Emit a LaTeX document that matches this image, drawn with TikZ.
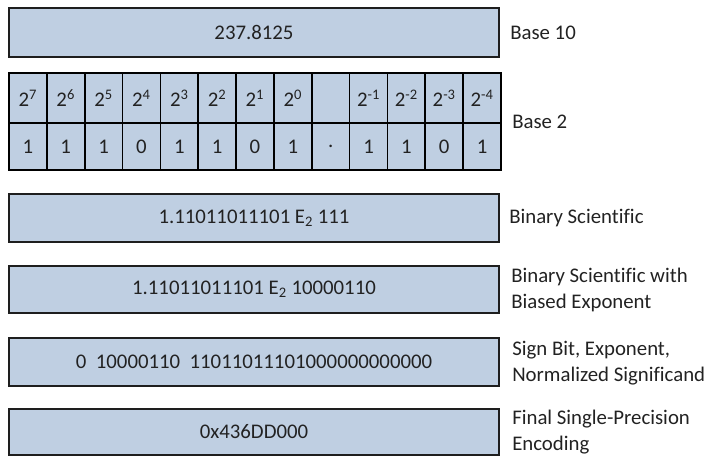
\documentclass[tikz,border=0pt]{standalone}
\usepackage{fontspec}
\setmainfont{Carlito}[Ligatures=NoCommon]
\definecolor{cellfill}{RGB}{191,207,226}
\definecolor{edge}{RGB}{30,30,30}
\definecolor{ink}{RGB}{34,34,34}
\begin{document}
\begin{tikzpicture}[x=0.75pt,y=-0.75pt,
  font=\fontsize{15.6}{19.5}\selectfont, text=ink,
  bar/.style={draw=edge, fill=cellfill, line width=1.3pt, inner sep=0pt,
    minimum width=367.5pt},
  cell/.style={draw=black, fill=cellfill, line width=1.3pt, inner sep=0pt,
    minimum width=28.385pt},
  caption/.style={anchor=west, align=left, inner sep=0pt}]
\useasboundingbox (0,0) rectangle (710,456);

% decimal value
\node[bar, minimum height=36.75pt] (dec) at (254,32.5) {237.8125};
\node[caption] (decl) at (510,32.5) {Base 10};

% place values and binary digits
\foreach \t [count=\i] in {2\textsuperscript{7},2\textsuperscript{6},2\textsuperscript{5},
    2\textsuperscript{4},2\textsuperscript{3},2\textsuperscript{2},2\textsuperscript{1},
    2\textsuperscript{0},{},2\textsuperscript{-1},2\textsuperscript{-2},
    2\textsuperscript{-3},2\textsuperscript{-4}}
  \node[cell, minimum height=37.5pt] (p\i) at ({9+37.846*(\i-0.5)},98) {\t};
\foreach \d [count=\i] in {1,1,1,0,1,1,0,1,.,1,1,0,1}
  \node[cell, minimum height=35.25pt] (d\i) at ({9+37.846*(\i-0.5)},146.5) {\d};
\node[caption] (binl) at (512,122) {Base 2};

% scientific forms and encodings
\node[bar, minimum height=36pt] (sci) at (254,218)
  {1.11011011101 E\textsubscript{2} 111};
\node[caption] (scil) at (509,218) {Binary Scientific};

\node[bar, minimum height=35.25pt] (bias) at (254,289.5)
  {1.11011011101 E\textsubscript{2} 10000110};
\node[caption] (biasl) at (511,290) {Binary Scientific with\\Biased Exponent};

\node[bar, minimum height=36pt] (sign) at (254,362)
  {0\ \ 10000110\ \ 11011011101000000000000};
\node[caption] (signl) at (512,363) {Sign Bit, Exponent,\\Normalized Significand};

\node[bar, minimum height=34.5pt] (final) at (254,432) {0x436DD000};
\node[caption] (finall) at (512,432) {Final Single-Precision\\Encoding};
\end{tikzpicture}
\end{document}
